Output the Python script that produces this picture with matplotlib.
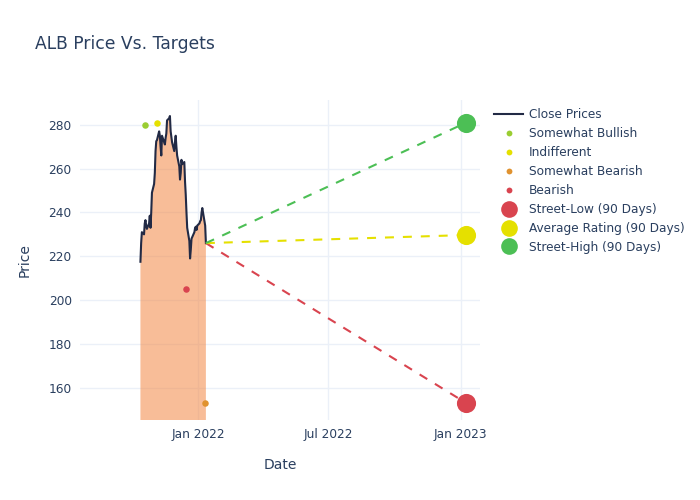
import numpy as np
import pandas as pd
from matplotlib import pyplot as plt
import matplotlib.dates as mdates
from matplotlib.lines import Line2D

# close prices, trading days 2021-10-13 .. 2022-01-12
close_dates = pd.bdate_range("2021-10-13", "2022-01-12", freq="C",
                             holidays=["2021-11-25", "2021-12-24"])
close_prices = [
    217.5, 226, 231, 230, 235, 236.5, 234, 232.5, 235, 238.5,
    233, 240, 249, 253, 258, 268, 272.5, 273, 277, 275,
    270, 266, 275, 272, 271, 274, 276, 282, 283, 284,
    277, 272, 268, 272, 275, 270, 266, 261, 255, 258,
    264, 262, 263, 254, 248, 240, 233, 227, 219, 223,
    228, 231, 233, 233.5, 232, 234, 235, 236, 236.5, 240,
    242, 236, 234, 226,
]

# analyst ratings
rating_names = ["Somewhat Bullish", "Indifferent", "Somewhat Bearish", "Bearish"]
rating_dates = pd.to_datetime(["2021-10-19", "2021-11-05", "2022-01-11", "2021-12-16"])
rating_prices = [280, 281, 153, 205]
rating_colors = ["#9acd32", "#e5e000", "#e0922f", "#d9444f"]

# 90 day targets
target_names = ["Street-Low (90 Days)", "Average Rating (90 Days)", "Street-High (90 Days)"]
target_date = pd.Timestamp("2023-01-09")
target_prices = [153, 229.7, 281]
target_colors = ["#d9444f", "#e5e000", "#4cbf55"]

text_col = "#2a3f5f"
grid_col = "#ebf0f8"

plt.rcParams["font.family"] = ["DejaVu Sans"]

fig = plt.figure(figsize=(7, 5), dpi=100)
ax = fig.add_axes([80 / 700, 80 / 500, 400 / 700, 320 / 500])

ax.fill_between(close_dates, close_prices, 0, color="#f37d33", alpha=0.5,
                linewidth=0, zorder=2)
ax.plot(close_dates, close_prices, color="#222a45", linewidth=1.5, zorder=3)

last_date = close_dates[-1]
last_price = close_prices[-1]
for price, col in zip(target_prices, target_colors):
    ax.plot([last_date, target_date], [last_price, price], color=col,
            linewidth=1.5, dashes=(4.3, 4.3), zorder=3)

for d, p, col in zip(rating_dates, rating_prices, rating_colors):
    ax.scatter([d], [p], s=22, color=col, zorder=4, linewidths=0)

for p, col in zip(target_prices, target_colors):
    ax.scatter([target_date], [p], s=190, color=col, zorder=5, linewidths=0)

ax.set_xlim(pd.Timestamp("2021-07-21"), pd.Timestamp("2023-01-28"))
ax.set_ylim(145.3, 291.3)
ax.set_yticks(np.arange(160, 281, 20))
ax.set_xticks(pd.to_datetime(["2022-01-01", "2022-07-01", "2023-01-01"]))
ax.xaxis.set_major_formatter(mdates.DateFormatter("%b %Y"))

for s in ax.spines.values():
    s.set_visible(False)
ax.grid(True, color=grid_col, linewidth=1)
ax.set_axisbelow(True)
ax.tick_params(length=0, labelsize=8.7, labelcolor=text_col, pad=6)

ax.set_xlabel("Date", fontsize=10, color=text_col, labelpad=12)
ax.set_ylabel("Price", fontsize=10, color=text_col, labelpad=12)
fig.text(35 / 700, 1 - 44 / 500, "ALB Price Vs. Targets", fontsize=12.3,
         color=text_col, va="center", ha="left")

handles = [Line2D([], [], color="#222a45", linewidth=1.5)]
for col in rating_colors:
    handles.append(Line2D([], [], linestyle="none", marker="o", markersize=4.2,
                          markerfacecolor=col, markeredgewidth=0))
for col in target_colors:
    handles.append(Line2D([], [], linestyle="none", marker="o", markersize=12,
                          markerfacecolor=col, markeredgewidth=0))
labels = ["Close Prices"] + rating_names + target_names
leg = fig.legend(handles, labels, loc="upper left",
                 bbox_to_anchor=(494 / 700, 1 - 108.5 / 500), frameon=False,
                 fontsize=8.7, labelspacing=0.487, handlelength=2.4,
                 handletextpad=0.5, borderpad=0, borderaxespad=0)
for t in leg.get_texts():
    t.set_color(text_col)

fig.savefig("out.png", dpi=100)
